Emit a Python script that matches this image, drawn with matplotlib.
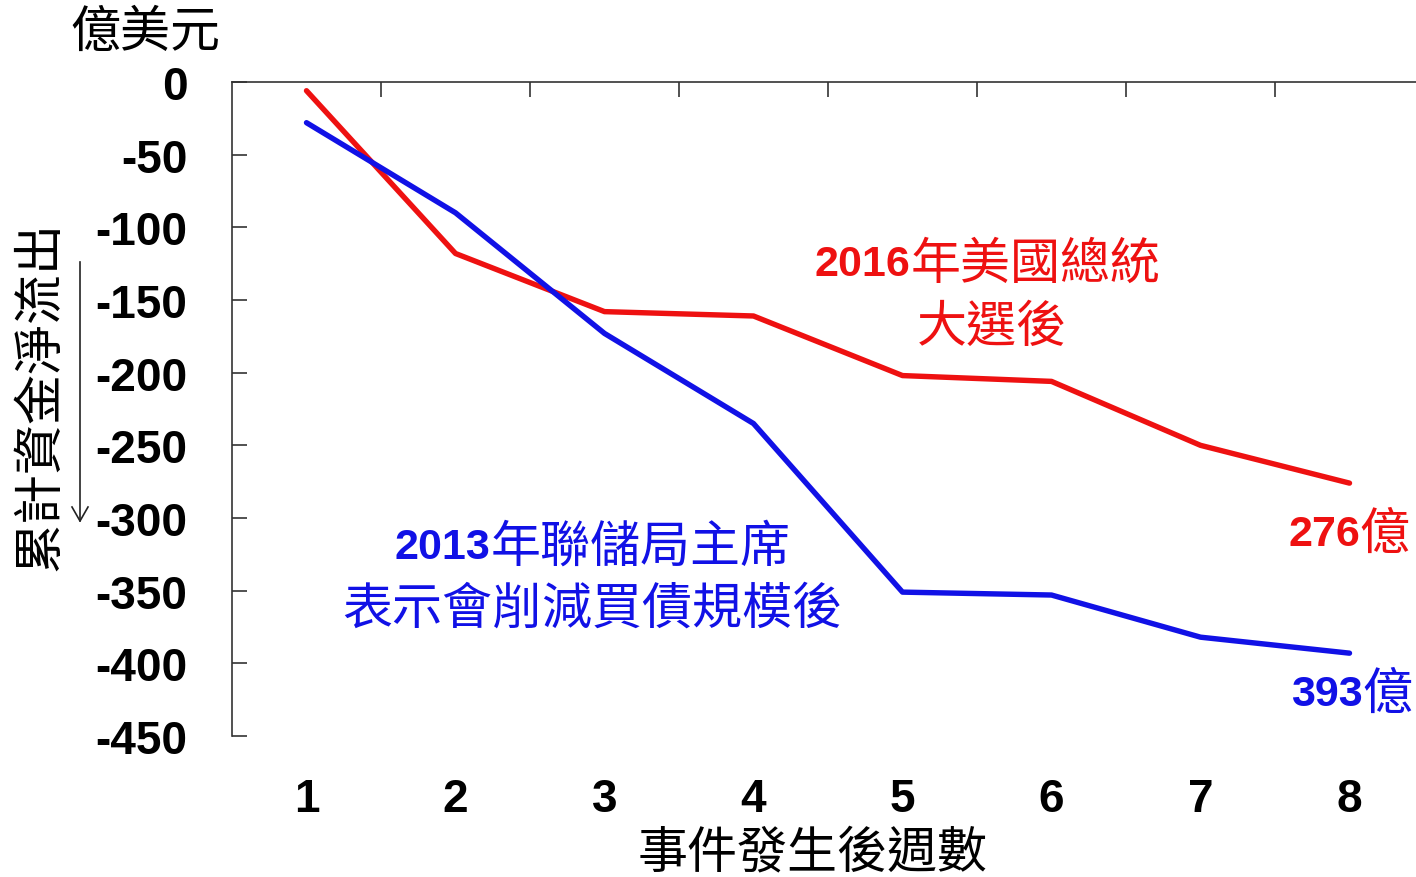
import matplotlib.pyplot as plt
import numpy as np

plt.rcParams['font.family'] = ['Noto Sans CJK TC', 'DejaVu Sans']

weeks = [1, 2, 3, 4, 5, 6, 7, 8]
flow_2016 = [-6, -118, -158, -161, -202, -206, -250, -276]
flow_2013 = [-28, -90, -173, -235, -351, -353, -382, -393]
y_ticks = [0, -50, -100, -150, -200, -250, -300, -350, -400, -450]

red = '#ee1111'
blue = '#1111e6'
num_font = 'Liberation Sans'
cjk_size = 36

fig = plt.figure(figsize=(14.16, 8.78), dpi=100)
W, H = 1416, 878
# axes box in pixels: left 232, top 83, bottom 737, runs off the right edge
ax = fig.add_axes([232 / W, 1 - 737 / H, 1 - 232 / W, (737 - 83) / H])

ax.plot(weeks, flow_2016, color=red, lw=3.9, solid_capstyle='round', solid_joinstyle='round')
ax.plot(weeks, flow_2013, color=blue, lw=3.9, solid_capstyle='round', solid_joinstyle='round')

ax.set_xlim(0.5, 0.5 + (W - 232) / 149)
ax.set_ylim(-450, 0)

# spines: only top (y=0 line) and left
for side in ['bottom', 'right']:
    ax.spines[side].set_visible(False)
for side in ['top', 'left']:
    ax.spines[side].set_linewidth(1.2)
    ax.spines[side].set_color('#333333')

# x: labels at bottom, tick marks between categories on the top line
ax.set_xticks(weeks)
ax.set_xticklabels([str(w) for w in weeks], fontfamily=num_font, fontweight='bold', fontsize=33)
ax.set_xticks(np.arange(1.5, 8.5, 1), minor=True)
ax.tick_params(axis='x', which='major', bottom=False, top=False, labelbottom=True, pad=26)
ax.tick_params(axis='x', which='minor', bottom=False, top=True, direction='in',
               length=11, width=1.2, color='#333333')

ax.set_yticks(y_ticks)
ax.set_yticklabels([str(v) for v in y_ticks], fontfamily=num_font, fontweight='bold', fontsize=33)
ax.tick_params(axis='y', which='major', left=True, direction='in', length=11, width=1.2,
               color='#333333', pad=32)

# axis titles
fig.text(813 / W, 1 - 853 / H, '事件發生後週數', ha='center', va='center', fontsize=cjk_size)
fig.text(145 / W, 1 - 33 / H, '億美元', ha='center', va='center', fontsize=cjk_size)
fig.text(40 / W, 1 - 396 / H, '累計資金淨流出', ha='center', va='center', fontsize=cjk_size,
         rotation=90)
fig.add_artist(plt.Line2D([80 / W, 80 / W], [1 - 263 / H, 1 - 522 / H], color='#222222', lw=1.2))
fig.add_artist(plt.Line2D([72 / W, 80 / W, 88 / W], [1 - 508 / H, 1 - 522 / H, 1 - 508 / H],
                          color='#222222', lw=1.2))

# series annotations
t = ax.text(815 / W, 1 - 265 / H, '2016', transform=fig.transFigure, color=red,
            fontsize=31, fontweight='bold', fontfamily=num_font, ha='left', va='center')
ax.annotate('年美國總統', xy=(1, 0.5), xycoords=t, color=red, fontsize=cjk_size,
            ha='left', va='center')
fig.text(992 / W, 1 - 328 / H, '大選後', color=red, fontsize=cjk_size, ha='center', va='center')

t2 = ax.text(395 / W, 1 - 548 / H, '2013', transform=fig.transFigure, color=blue,
             fontsize=31, fontweight='bold', fontfamily=num_font, ha='left', va='center')
ax.annotate('年聯儲局主席', xy=(1, 0.5), xycoords=t2, color=blue, fontsize=cjk_size,
            ha='left', va='center')
fig.text(592 / W, 1 - 610 / H, '表示會削減買債規模後', color=blue, fontsize=cjk_size,
         ha='center', va='center')

t3 = ax.text(1288 / W, 1 - 535 / H, str(-flow_2016[-1]), transform=fig.transFigure, color=red,
             fontsize=31, fontweight='bold', fontfamily=num_font, ha='left', va='center')
ax.annotate('億', xy=(1, 0.5), xycoords=t3, color=red, fontsize=cjk_size, ha='left', va='center')

t4 = ax.text(1291 / W, 1 - 695 / H, str(-flow_2013[-1]), transform=fig.transFigure, color=blue,
             fontsize=31, fontweight='bold', fontfamily=num_font, ha='left', va='center')
ax.annotate('億', xy=(1, 0.5), xycoords=t4, color=blue, fontsize=cjk_size, ha='left', va='center')

fig.savefig('out.png', dpi=100)
